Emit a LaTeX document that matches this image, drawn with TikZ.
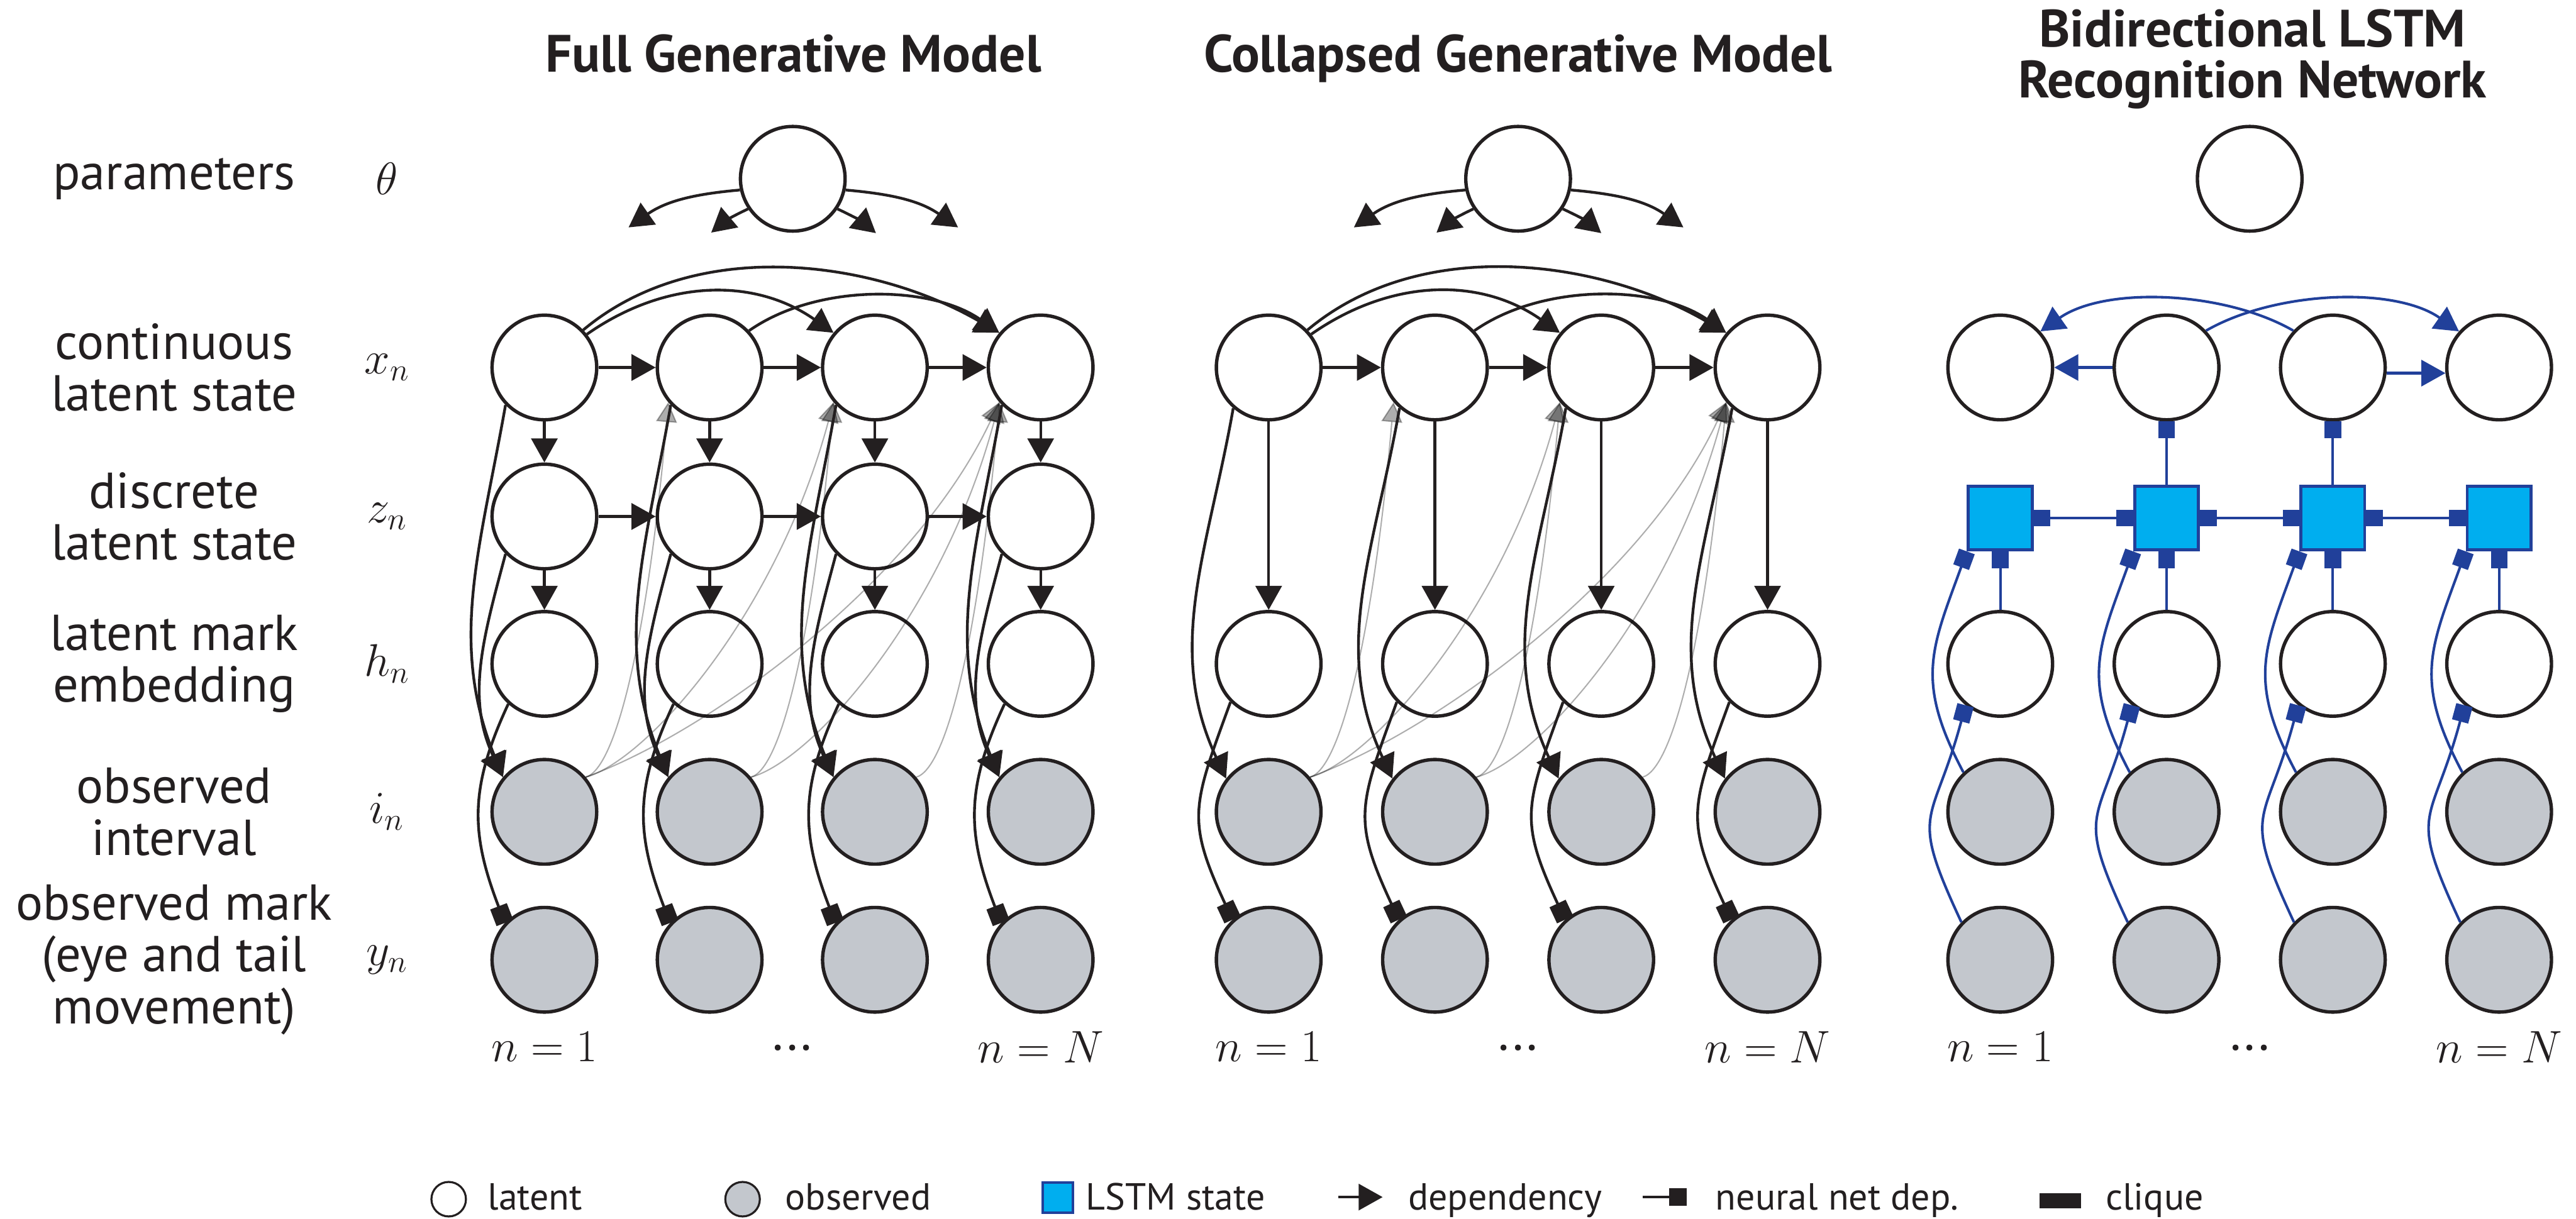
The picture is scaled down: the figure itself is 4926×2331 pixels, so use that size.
\documentclass[tikz,border=0pt]{standalone}
\usepackage{fontspec}
\setmainfont{PT Sans}
\usetikzlibrary{arrows.meta,backgrounds}
\definecolor{ink}{RGB}{35,31,32}
\definecolor{obsfill}{RGB}{195,199,205}
\definecolor{lstmfill}{RGB}{0,174,239}
\definecolor{lstmline}{RGB}{33,64,154}
\tikzset{
  lat/.style={circle,draw=ink,line width=1.85pt,fill=white,minimum size=2.0cm,inner sep=0pt},
  obs/.style={lat,fill=obsfill},
  lstm/.style={rectangle,draw=lstmline,line width=1.6pt,fill=lstmfill,minimum size=1.22cm,inner sep=0pt},
  dep/.style={draw=ink,line width=1.5pt,-{Triangle[length=0.46cm,width=0.5cm]}},
  nn/.style={draw=ink,line width=1.5pt,-{Square[length=0.34cm,width=0.34cm]}},
  clq/.style={draw=ink,line width=6.6pt},
  ghost/.style={draw=black,opacity=0.32,line width=0.7pt,-{Triangle[length=0.38cm,width=0.4cm]}},
  bdep/.style={draw=lstmline,line width=1.4pt,-{Triangle[length=0.46cm,width=0.5cm]}},
  bnn/.style={draw=lstmline,line width=1.4pt,-{Square[length=0.32cm,width=0.32cm]}},
  bnnboth/.style={draw=lstmline,line width=1.4pt,{Square[length=0.32cm,width=0.32cm]}-{Square[length=0.32cm,width=0.32cm]}},
  rowlab/.style={font=\fontsize{27.5}{28.2}\selectfont,align=center,text=ink,inner sep=0pt},
  mathlab/.style={font=\fontsize{26}{26}\selectfont,text=ink,inner sep=0pt},
  idxlab/.style={font=\fontsize{23}{23}\selectfont,text=ink,inner sep=0pt},
  paneltitle/.style={font=\fontsize{28.6}{29}\selectfont\bfseries,text=ink,inner sep=0pt,anchor=base},
  leglab/.style={font=\fontsize{20.5}{21}\selectfont,text=ink,anchor=base west,inner sep=0pt},
}
\begin{document}
\begin{tikzpicture}[x=0.01cm,y=0.01cm]
\useasboundingbox[fill=white] (0,0) rectangle (4926,-2331);

% ---------- row labels ----------
\node[rowlab] (l-par) at (333,-342) {parameters};
\node[rowlab] (l-x) at (333,-703) {continuous\\latent state};
\node[rowlab] (l-z) at (333,-988) {discrete\\latent state};
\node[rowlab] (l-h) at (333,-1270) {latent mark\\embedding};
\node[rowlab] (l-i) at (333,-1553) {observed\\interval};
\node[rowlab] (l-y) at (333,-1836) {observed mark\\(eye and tail\\movement)};
\node[mathlab] (m-th) at (740,-342) {$\theta$};
\node[mathlab] (m-x) at (740,-703) {$x_n$};
\node[mathlab] (m-z) at (740,-988) {$z_n$};
\node[mathlab] (m-h) at (740,-1270) {$h_n$};
\node[mathlab] (m-i) at (740,-1553) {$i_n$};
\node[mathlab] (m-y) at (740,-1836) {$y_n$};

% ---------- titles ----------
\node[paneltitle] (t-a) at (1517,-138) {Full Generative Model};
\node[paneltitle] (t-b) at (2903,-138) {Collapsed Generative Model};
\node[paneltitle] (t-c1) at (4307,-90) {Bidirectional LSTM};
\node[paneltitle] (t-c2) at (4307,-187) {Recognition Network};

% ---------- nodes ----------
\node[lat] (a-th) at (1516,-342) {};
\node[lat] (b-th) at (2903,-342) {};
\node[lat] (c-th) at (4302,-342) {};
\foreach \c/\xx in {1/1041,2/1357,3/1673,4/1990} {
  \node[lat] (a-x\c) at (\xx,-703) {};
  \node[lat] (a-z\c) at (\xx,-988) {};
  \node[lat] (a-h\c) at (\xx,-1270) {};
  \node[obs] (a-i\c) at (\xx,-1553) {};
  \node[obs] (a-y\c) at (\xx,-1836) {};
}
\foreach \c/\xx in {1/2426,2/2744,3/3062,4/3380} {
  \node[lat] (b-x\c) at (\xx,-703) {};
  \node[lat] (b-h\c) at (\xx,-1270) {};
  \node[obs] (b-i\c) at (\xx,-1553) {};
  \node[obs] (b-y\c) at (\xx,-1836) {};
}
\foreach \c/\xx in {1/3825,2/4143,3/4461,4/4779} {
  \node[lat] (c-x\c) at (\xx,-703) {};
  \node[lstm] (c-s\c) at (\xx,-991) {};
  \node[lat] (c-h\c) at (\xx,-1270) {};
  \node[obs] (c-i\c) at (\xx,-1553) {};
  \node[obs] (c-y\c) at (\xx,-1836) {};
}

% index labels under the columns
\foreach \p/\xa/\xm/\xb in {a/1041/1515/1990,b/2426/2903/3380,c/3825/4302/4779} {
  \node[idxlab] (\p-n1) at (\xa,-2003) {$n=1$};
  \node[rowlab] (\p-dots) at (\xm,-2005) {...};
  \node[idxlab] (\p-nN) at (\xb,-2003) {$n=N$};
}

% ---------- generative models: shared structure ----------
\foreach \p in {a,b} {
  % global parameters fan out
  \path (\p-th) ++(-314,-93) coordinate (\p-tl1);
  \path (\p-th) ++(-156,-103) coordinate (\p-tl2);
  \path (\p-th) ++(159,-104) coordinate (\p-tr2);
  \path (\p-th) ++(316,-93) coordinate (\p-tr1);
  \draw[dep] (\p-th.192) to[out=185,in=35] (\p-tl1);
  \draw[dep] (\p-th.214) to[out=205,in=40] (\p-tl2);
  \draw[dep] (\p-th.-34) to[out=-25,in=140] (\p-tr2);
  \draw[dep] (\p-th.-12) to[out=-5,in=145] (\p-tr1);
  % continuous state dynamics
  \draw[dep] (\p-x1) -- (\p-x2);
  \draw[dep] (\p-x2) -- (\p-x3);
  \draw[dep] (\p-x3) -- (\p-x4);
  \draw[dep] (\p-x1.38) to[out=35,in=145] (\p-x3.140);
  \draw[dep] (\p-x1.44) to[out=40,in=150,looseness=0.9] (\p-x4.140);
  \draw[dep] (\p-x2.43) to[out=35,in=145,looseness=0.85] (\p-x4.140);
  % interval history feeds later states
  \foreach \n/\m in {1/2,2/3,3/4}
    \draw[ghost] (\p-i\n.40) .. controls +(15:60) and +(-95:450) .. (\p-x\m.-140);
  \foreach \n/\m in {1/3,2/4}
    \draw[ghost] (\p-i\n.40) .. controls +(15:120) and +(-105:420) .. (\p-x\m.-140);
  \draw[ghost] (\p-i1.40) .. controls +(20:250) and +(-115:380) .. (\p-x4.-140);
}

% ---------- full generative model ----------
\draw[dep] (a-z1) -- (a-z2);
\draw[dep] (a-z2) -- (a-z3);
\draw[dep] (a-z3) -- (a-z4);
\foreach \c in {1,2,3,4} {
  \draw[dep] (a-x\c) -- (a-z\c);
  \draw[dep] (a-z\c) -- (a-h\c);
  \draw[dep] (a-x\c.224) to[out=-100,in=112] (a-i\c.140);
  \draw[dep] (a-z\c.224) to[out=-105,in=115] (a-i\c.140);
  \draw[nn] (a-h\c.228) to[out=-115,in=111,looseness=1.1] (a-y\c.137);
}

% ---------- collapsed generative model ----------
\begin{scope}[on background layer]
  \draw[clq] (b-h1.center) -- (b-h2.center) -- (b-h3.center) -- (b-h4.center);
  \draw[clq] (b-i1.center) -- (b-i2.center) -- (b-i3.center) -- (b-i4.center);
  \foreach \c in {1,2,3,4} \draw[clq] (b-h\c.center) -- (b-i\c.center);
\end{scope}
\foreach \c in {1,2,3,4} {
  \draw[dep] (b-x\c) -- (b-h\c);
  \draw[dep] (b-x\c.229) to[out=-100,in=115] (b-i\c.142);
  \draw[nn] (b-h\c.225) to[out=-110,in=115,looseness=1.3] (b-y\c.132);
}

% ---------- recognition network ----------
\draw[bdep] (c-x2) -- (c-x1);
\draw[bdep] (c-x3.-6) -- (c-x4.-174);
\draw[bdep] (c-x3.137) to[out=150,in=35,looseness=0.8] (c-x1.42);
\draw[bdep] (c-x2.43) to[out=30,in=145,looseness=0.8] (c-x4.138);
\draw[bnnboth] (c-s1) -- (c-s2);
\draw[bnnboth] (c-s2) -- (c-s3);
\draw[bnnboth] (c-s3) -- (c-s4);
\draw[bnn] (c-s2) -- (c-x2);
\draw[bnn] (c-s3) -- (c-x3);
\foreach \c in {1,2,3,4} {
  \draw[bnn] (c-h\c) -- (c-s\c);
  \draw[bnn] (c-i\c.133) to[out=118,in=-110,looseness=1.2] (c-s\c.south west);
  \draw[bnn] (c-y\c.136) to[out=115,in=-105,looseness=1.5] (c-h\c.-130);
}

% ---------- legend ----------
\node[lat,minimum size=0.66cm,line width=1.1pt] (lg-lat) at (858,-2294) {};
\node[leglab] (lg-lat-t) at (932,-2315) {latent};
\node[obs,minimum size=0.66cm,line width=1.1pt] (lg-obs) at (1420,-2294) {};
\node[leglab] (lg-obs-t) at (1501,-2315) {observed};
\node[lstm,minimum size=0.58cm,line width=1.3pt] (lg-lstm) at (2023,-2291) {};
\node[leglab] (lg-lstm-t) at (2076,-2315) {LSTM state};
\coordinate (lg-d0) at (2559,-2290);
\coordinate (lg-d1) at (2644,-2290);
\draw[dep] (lg-d0) -- (lg-d1);
\node[leglab] (lg-dep-t) at (2692,-2315) {dependency};
\coordinate (lg-n0) at (3141,-2290);
\coordinate (lg-n1) at (3226,-2290);
\draw[nn] (lg-n0) -- (lg-n1);
\node[leglab] (lg-nn-t) at (3280,-2315) {neural net dep.};
\coordinate (lg-c0) at (3900,-2297);
\coordinate (lg-c1) at (3980,-2297);
\draw[clq,line width=8.2pt] (lg-c0) -- (lg-c1);
\node[leglab] (lg-clq-t) at (4026,-2315) {clique};
\end{tikzpicture}
\end{document}
